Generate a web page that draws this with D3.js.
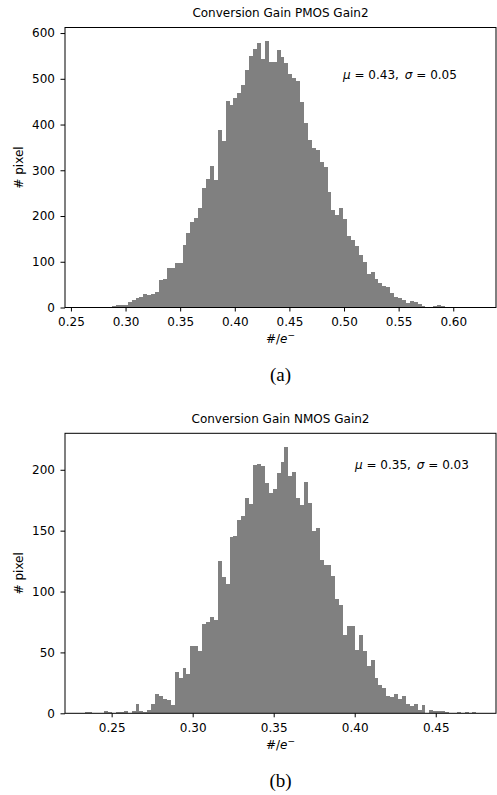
<!DOCTYPE html>
<html>
<head>
<meta charset="utf-8">
<script src="https://cdn.jsdelivr.net/npm/d3@7"></script>
<style>
  body { margin: 0; background: #fff; }
  svg text { font-family: "DejaVu Sans", sans-serif; fill: #000; }
</style>
</head>
<body>
<div id="root"></div>
<script>
// counts per bin, 100 bins each
const pmosCounts = [
  1, 1, 1, 0, 1, 2, 1, 4, 5, 5,
  5, 12, 16, 21, 23, 29, 27, 29, 34, 61,
  63, 86, 86, 97, 97, 136, 163, 187, 195, 217,
  261, 281, 310, 278, 388, 365, 451, 443, 459, 470,
  487, 520, 550, 565, 578, 543, 583, 537, 537, 563,
  547, 534, 510, 501, 495, 449, 403, 366, 348, 344,
  318, 308, 253, 213, 202, 218, 193, 156, 147, 134,
  114, 100, 73, 77, 62, 53, 48, 45, 31, 23,
  20, 16, 9, 14, 12, 7, 4, 2, 1, 4,
  5, 4, 2, 1, 0, 1, 1, 0, 1, 1
];
const nmosCounts = [
  1, 1, 0, 0, 0, 2, 1, 0, 1, 1,
  2, 0, 2, 8, 2, 1, 3, 8, 16, 14,
  12, 11, 7, 34, 29, 37, 32, 55, 55, 51,
  73, 75, 79, 77, 125, 112, 106, 145, 146, 159,
  162, 177, 172, 204, 205, 203, 189, 181, 184, 197,
  206, 219, 195, 198, 177, 171, 190, 173, 150, 152,
  126, 122, 122, 113, 94, 89, 64, 72, 72, 52,
  64, 51, 39, 44, 29, 23, 21, 14, 13, 16,
  12, 14, 8, 6, 8, 3, 7, 0, 3, 2,
  2, 2, 1, 0, 0, 1, 0, 1, 0, 1
];
// first and last bin edge (#/e-)
const pmosRange = [0.2625, 0.6212];
const nmosRange = [0.2333, 0.4751];

const pmosXTicks = [0.25, 0.30, 0.35, 0.40, 0.45, 0.50, 0.55, 0.60];
const nmosXTicks = [0.25, 0.30, 0.35, 0.40, 0.45];
const pmosYTicks = [0, 100, 200, 300, 400, 500, 600];
const nmosYTicks = [0, 50, 100, 150, 200];

const titles = ["Conversion Gain PMOS Gain2", "Conversion Gain NMOS Gain2"];
const muVals = ["0.43", "0.35"];
const sigmaVals = ["0.05", "0.03"];
const captions = ["(a)", "(b)"];

class Histogram {
  constructor(counts, range, opts, con) {
    this.con = con;
    this.size = { width: 431, height: 280 };
    const W = this.size.width, H = this.size.height;

    this.svg = con.root.append("g")
      .attr("transform", `translate(${con.left}, ${con.top})`);

    const n = counts.length;
    const bw = (range[1] - range[0]) / n;
    const span = range[1] - range[0];

    // matplotlib style 5% margins on x, 5% headroom on y
    const x = d3.scaleLinear()
      .domain([range[0] - span * 0.05, range[1] + span * 0.05])
      .range([0, W]);
    const y = d3.scaleLinear()
      .domain([0, d3.max(counts) * 1.05])
      .range([H, 0]);

    const bins = counts.map((c, i) => ({ x0: range[0] + i * bw, x1: range[0] + (i + 1) * bw, c }));

    this.svg.append("g")
      .attr("shape-rendering", "crispEdges")
      .selectAll("rect.bar")
      .data(bins)
      .join("rect")
        .attr("class", "bar")
        .attr("x", d => x(d.x0))
        .attr("y", d => y(d.c))
        .attr("width", d => x(d.x1) - x(d.x0))
        .attr("height", d => y(0) - y(d.c))
        .attr("fill", "#808080");

    const xAxis = this.svg.append("g")
      .attr("transform", `translate(0,${H})`)
      .call(d3.axisBottom(x).tickValues(opts.xTicks).tickFormat(d3.format(".2f")).tickSize(4).tickPadding(6));
    const yAxis = this.svg.append("g")
      .call(d3.axisLeft(y).tickValues(opts.yTicks).tickFormat(d3.format("d")).tickSize(4.5).tickPadding(5.5));
    [xAxis, yAxis].forEach(a => {
      a.select(".domain").remove();
      a.attr("font-size", 12).attr("font-family", "DejaVu Sans");
      a.selectAll("line").attr("stroke", "#000").attr("stroke-width", 1);
    });

    // frame
    this.svg.append("rect")
      .attr("width", W)
      .attr("height", H)
      .attr("fill", "none")
      .attr("stroke", "#000")
      .attr("stroke-width", 1);

    this.svg.append("text")
      .attr("x", W / 2)
      .attr("y", -10.5)
      .attr("text-anchor", "middle")
      .style("font-size", "12px")
      .text(opts.title);

    this.svg.append("text")
      .attr("transform", `translate(-46, ${H / 2}) rotate(-90)`)
      .attr("text-anchor", "middle")
      .attr("dy", "0.35em")
      .style("font-size", "12px")
      .text("# pixel");

    const xl = this.svg.append("text")
      .attr("x", W / 2)
      .attr("y", H + 35.5)
      .attr("text-anchor", "middle")
      .style("font-size", "12px");
    xl.append("tspan").text("#/");
    xl.append("tspan").style("font-style", "italic").text("e");
    xl.append("tspan").attr("dy", -5).style("font-size", "9px").text("\u2212");

    const st = this.svg.append("text")
      .attr("x", opts.statX)
      .attr("y", opts.statY)
      .style("font-size", "12px")
      .attr("xml:space", "preserve");
    st.append("tspan").style("font-style", "italic").text("\u03bc");
    st.append("tspan").text(` = ${opts.mu},\u2002`);
    st.append("tspan").style("font-style", "italic").text("\u03c3");
    st.append("tspan").text(` = ${opts.sigma}`);

    this.svg.append("text")
      .attr("x", W / 2)
      .attr("y", H + 73.5)
      .attr("text-anchor", "middle")
      .style("font-family", "'Liberation Serif', serif")
      .style("font-size", "19px")
      .text(opts.caption);
  }
}

const root = d3.select("#root").append("svg")
  .attr("width", 497)
  .attr("height", 795);

new Histogram(pmosCounts, pmosRange, {
  xTicks: pmosXTicks, yTicks: pmosYTicks, title: titles[0],
  mu: muVals[0], sigma: sigmaVals[0], statX: 278, statY: 51.5, caption: captions[0]
}, { root, left: 65, top: 27.5 });

new Histogram(nmosCounts, nmosRange, {
  xTicks: nmosXTicks, yTicks: nmosYTicks, title: titles[1],
  mu: muVals[1], sigma: sigmaVals[1], statX: 290, statY: 36, caption: captions[1]
}, { root, left: 65, top: 433.3 });
</script>
</body>
</html>
